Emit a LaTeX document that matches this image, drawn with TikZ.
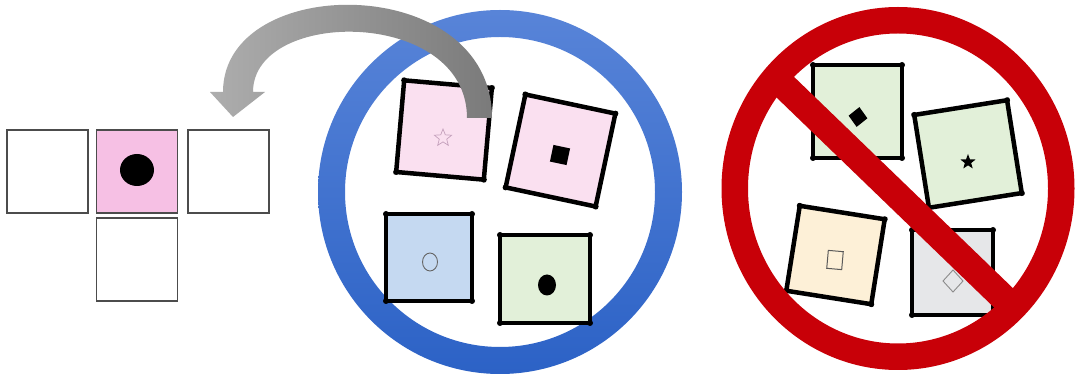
\documentclass[tikz,border=0pt]{standalone}
\usetikzlibrary{shapes.geometric}
\definecolor{pinkA}{RGB}{246,192,228}
\definecolor{pinkB}{RGB}{250,224,240}
\definecolor{blueF}{RGB}{197,217,241}
\definecolor{greenF}{RGB}{226,240,217}
\definecolor{beigeF}{RGB}{253,240,215}
\definecolor{grayF}{RGB}{230,231,233}
\definecolor{ringBlueTop}{RGB}{88,132,216}
\definecolor{ringBlueBot}{RGB}{44,98,198}
\definecolor{ringRed}{RGB}{200,0,8}
\definecolor{starPink}{RGB}{196,160,188}
\tikzset{
  cell/.style={draw=black!70, line width=1.3pt, minimum width=81pt, minimum height=83pt, inner sep=0pt, outer sep=0pt},
  card/.style={draw=black, line width=4.5pt, inner sep=0pt, outer sep=0pt},
  sym/.style={inner sep=0pt, outer sep=0pt},
  dotc/.style={fill=black},
}
\newcommand{\cornerdots}[1]{%
  \foreach \a in {north west,north east,south east,south west}{\fill[dotc] (#1.\a) circle (3pt);}}
\begin{document}
\begin{tikzpicture}[x=1pt,y=-1pt]
\useasboundingbox (0,0) rectangle (1077,379);
\fill[white] (0,0) rectangle (1077,379);

% left grid
\node[cell] (g1) at (47.5,171.5) {};
\node[cell, fill=pinkA] (g2) at (137,171.5) {};
\node[cell] (g3) at (228.5,171.5) {};
\node[cell] (g4) at (137,259.5) {};
\node[sym, ellipse, fill=black, minimum width=34pt, minimum height=32pt] (gdot) at (137,170) {};

% blue ring
\shade[top color=ringBlueTop, bottom color=ringBlueBot, even odd rule]
  (500,192) circle (182pt) (500,192) circle (155pt);

% cards in blue ring
\node[card, fill=pinkB, minimum width=88pt, minimum height=92pt, rotate=-5] (c1) at (444,130) {};
\node[card, fill=pinkB, minimum width=92pt, minimum height=95pt, rotate=-12] (c2) at (560.5,150.5) {};
\node[card, fill=blueF, minimum width=86pt, minimum height=87pt] (c3) at (429,257.5) {};
\node[card, fill=greenF, minimum width=90pt, minimum height=88pt] (c4) at (545,279) {};
\foreach \n in {c1,c2,c3,c4}{\cornerdots{\n}}
\node[sym, star, star points=5, star point ratio=2.3, draw=starPink, line width=0.7pt, minimum size=18pt] (s1) at (443,138) {};
\node[sym, fill=black, minimum size=17pt, rotate=-12] (s2) at (560,155) {};
\node[sym, ellipse, draw=black!60, line width=0.9pt, minimum width=15pt, minimum height=18pt] (s3) at (430,262) {};
\node[sym, ellipse, fill=black, minimum width=18pt, minimum height=21pt] (s4) at (547,285) {};

% cards in red ring
\node[card, fill=greenF, minimum width=89pt, minimum height=93pt] (d1) at (857.5,111.5) {};
\node[card, fill=greenF, minimum size=94pt, rotate=9] (d2) at (968,154) {};
\node[card, fill=beigeF, minimum size=86pt, rotate=-9] (d3) at (835.5,255) {};
\node[card, fill=grayF, minimum width=81pt, minimum height=85pt] (d4) at (952.5,272.5) {};
\foreach \n in {d1,d2,d3,d4}{\cornerdots{\n}}
\node[sym, diamond, fill=black, minimum width=19pt, minimum height=20pt, rotate=-8] (t1) at (858,117) {};
\node[sym, star, star points=5, star point ratio=2.4, fill=black, minimum size=16pt] (t2) at (968,162) {};
\node[sym, draw=black!65, line width=1pt, minimum width=15pt, minimum height=18pt, rotate=-5] (t3) at (835,260) {};
\node[sym, diamond, draw=black!45, line width=0.9pt, minimum width=20pt, minimum height=22pt] (t4) at (953,281) {};

% red no-sign
\begin{scope}
  \clip (898,188.5) ellipse [x radius=152pt, y radius=157pt];
  \draw[ringRed, line width=27pt] (754,57) -- (1042,335);
\end{scope}
\fill[ringRed, even odd rule]
  (898,188.5) ellipse [x radius=176.5pt, y radius=181.5pt]
  (898,188.5) ellipse [x radius=150pt, y radius=155pt];

% curved gray arrow
\coordinate (atip) at (233,117);
\shade[left color=black!32, right color=black!52]
  (210,92) -- (atip) -- (265,92) -- (253,92)
  .. controls (253,7.7) and (467,7.7) .. (467,118)
  -- (492,118)
  .. controls (492,-28.3) and (223,-28.3) .. (223,92) -- cycle;
\end{tikzpicture}
\end{document}
